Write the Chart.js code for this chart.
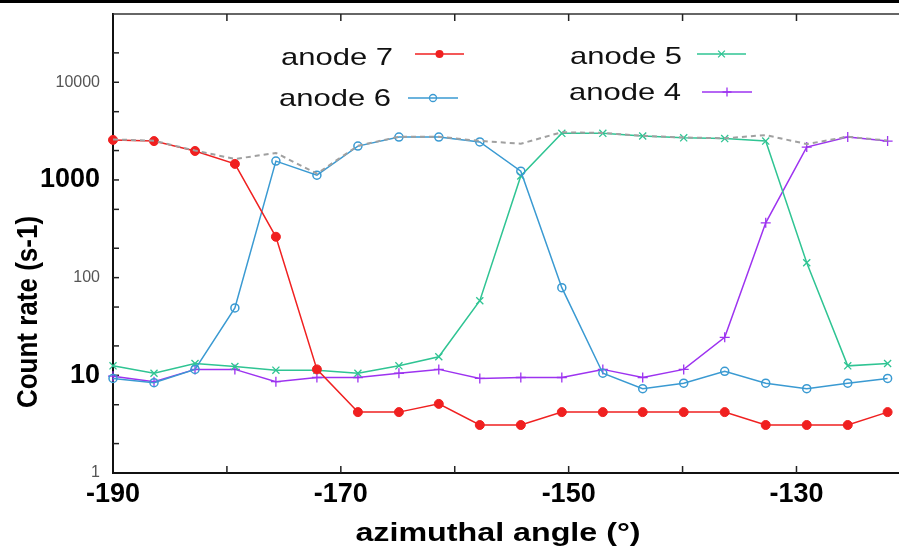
<!DOCTYPE html>
<html><head><meta charset="utf-8">
<script src="https://cdn.jsdelivr.net/npm/chart.js@4.4.0/dist/chart.umd.min.js"></script>
<style>html,body{margin:0;padding:0;background:#fff;overflow:hidden}#wrap{width:899px;height:547px;position:relative}</style>
</head><body><div id="wrap"><canvas id="c" width="899" height="547"></canvas></div>
<script>
// ---- data ----
const angles = [-190, -186.4, -182.8, -179.3, -175.7, -172.1, -168.5, -164.9, -161.4, -157.8, -154.2, -150.6, -147.0, -143.5, -139.9, -136.3, -132.7, -129.1, -125.5, -122.0];
const anode7 = [2570, 2500, 1980, 1460, 262, 11.5, 4.2, 4.2, 5.1, 3.1, 3.1, 4.2, 4.2, 4.2, 4.2, 4.2, 3.1, 3.1, 3.1, 4.2];
const anode6 = [9.3, 8.4, 11.5, 49, 1560, 1120, 2220, 2750, 2750, 2450, 1230, 79, 10.5, 7.3, 8.3, 11, 8.3, 7.3, 8.3, 9.3];
const anode5 = [12.5, 10.5, 13.2, 12.3, 11.3, 11.3, 10.5, 12.5, 15.5, 58, 1100, 3000, 3000, 2820, 2700, 2650, 2500, 142, 12.5, 13.2];
const anode4 = [9.8, 8.6, 11.5, 11.5, 8.6, 9.5, 9.5, 10.5, 11.5, 9.3, 9.5, 9.5, 11.5, 9.5, 11.5, 24.5, 364, 2170, 2750, 2500];
const total  = [2600, 2520, 2000, 1640, 1890, 1160, 2240, 2770, 2770, 2510, 2350, 3080, 3030, 2830, 2720, 2670, 2880, 2330, 2770, 2530];
const seriesNames = ['anode 7', 'anode 6', 'anode 5', 'anode 4'];
const xTickValues = [-190, -180, -170, -160, -150, -140, -130];
const xTickLabels = [-190, -170, -150, -130];
const yTickValues = [1, 2, 5, 10, 20, 50, 100, 200, 500, 1000, 2000, 5000, 10000, 20000];
const yTickLabelsBig = [10, 1000];
const yTickLabelsSmall = [1, 100, 10000];
const xTitle = 'azimuthal angle (°)';
const yTitle = 'Count rate (s-1)';

const pts = arr => angles.map((a, i) => ({x: a, y: arr[i]}));
const FONT = '"Liberation Sans", Arial, sans-serif';

const colors = {a7: '#f02020', a6: '#3a9ad2', a5: '#2fc493', a4: '#9d33f0', tot: '#a0a0a0'};

const datasets = [
  {label: 'total', data: pts(total), borderColor: colors.tot, borderWidth: 2, borderDash: [5, 4], pointRadius: 0, clip: false},
  {label: seriesNames[0], data: pts(anode7), borderColor: colors.a7, backgroundColor: colors.a7, borderWidth: 1.5,
   pointStyle: 'circle', pointRadius: 4.5, pointBackgroundColor: colors.a7, pointBorderColor: colors.a7, pointBorderWidth: 1, clip: false},
  {label: seriesNames[1], data: pts(anode6), borderColor: colors.a6, backgroundColor: colors.a6, borderWidth: 1.5,
   pointStyle: 'circle', pointRadius: 4, pointBackgroundColor: 'rgba(255,255,255,0)', pointBorderColor: colors.a6, pointBorderWidth: 1.5, clip: false},
  {label: seriesNames[2], data: pts(anode5), borderColor: colors.a5, backgroundColor: colors.a5, borderWidth: 1.5,
   pointStyle: 'crossRot', pointRadius: 5, pointBorderColor: colors.a5, pointBorderWidth: 1.3, clip: false},
  {label: seriesNames[3], data: pts(anode4), borderColor: colors.a4, backgroundColor: colors.a4, borderWidth: 1.5,
   pointStyle: 'cross', pointRadius: 5, pointBorderColor: colors.a4, pointBorderWidth: 1.3, clip: false}
];

function marker(ctx, style, x, y, r, color, lw) {
  ctx.save();
  ctx.strokeStyle = color; ctx.fillStyle = color; ctx.lineWidth = lw;
  ctx.beginPath();
  if (style === 'dot') { ctx.arc(x, y, r, 0, Math.PI * 2); ctx.fill(); }
  else if (style === 'ring') { ctx.arc(x, y, r, 0, Math.PI * 2); ctx.stroke(); }
  else if (style === 'crossRot') { const d = r * 0.75; ctx.moveTo(x - d, y - d); ctx.lineTo(x + d, y + d); ctx.moveTo(x - d, y + d); ctx.lineTo(x + d, y - d); ctx.stroke(); }
  else { ctx.moveTo(x - r, y); ctx.lineTo(x + r, y); ctx.moveTo(x, y - r); ctx.lineTo(x, y + r); ctx.stroke(); }
  ctx.restore();
}

const framePlugin = {
  id: 'frame',
  beforeDatasetsDraw(chart) {
    const {ctx, chartArea: a, scales: {x, y}} = chart;
    ctx.save();
    ctx.fillStyle = '#000'; ctx.fillRect(0, 0, chart.width, 3);
    ctx.strokeStyle = '#333'; ctx.lineWidth = 1.5;
    ctx.beginPath(); ctx.moveTo(a.left, a.top); ctx.lineTo(chart.width, a.top); ctx.stroke();
    ctx.strokeStyle = '#222'; ctx.lineWidth = 1.5;
    x.ticks.forEach(t => {
      const px = x.getPixelForValue(t.value);
      if (px <= a.left + 2) return;
      ctx.beginPath();
      ctx.moveTo(px, a.bottom); ctx.lineTo(px, a.bottom - 7);
      ctx.moveTo(px, a.top); ctx.lineTo(px, a.top + 7);
      ctx.stroke();
    });
    y.ticks.forEach(t => {
      const py = y.getPixelForValue(t.value);
      if (py >= a.bottom - 1) return;
      ctx.beginPath(); ctx.moveTo(a.left, py); ctx.lineTo(a.left + 6, py); ctx.stroke();
    });
    ctx.restore();
  },
  afterDraw(chart) {
    const {ctx} = chart;
    ctx.save();
    ctx.fillStyle = '#000';
    ctx.font = 'bold 26px ' + FONT;
    ctx.textAlign = 'center'; ctx.textBaseline = 'alphabetic';
    ctx.save(); ctx.translate(498, 541); ctx.scale(1.24, 1); ctx.fillText(xTitle, 0, 0); ctx.restore();
    ctx.save(); ctx.translate(37, 312); ctx.rotate(-Math.PI / 2); ctx.scale(1, 1.15); ctx.fillText(yTitle, 0, 0); ctx.restore();
    const items = [
      {ds: 1, tx: 281, ty: 65, x1: 415, x2: 464, my: 54, m: 'dot', r: 4},
      {ds: 3, tx: 570, ty: 64, x1: 697, x2: 746, my: 54, m: 'crossRot', r: 4.5},
      {ds: 2, tx: 279, ty: 106, x1: 408, x2: 458, my: 98, m: 'ring', r: 3.5},
      {ds: 4, tx: 569, ty: 100, x1: 702, x2: 752, my: 92, m: 'cross', r: 4.5}
    ];
    ctx.font = '24px ' + FONT; ctx.textAlign = 'left'; ctx.textBaseline = 'alphabetic';
    items.forEach(it => {
      const d = chart.data.datasets[it.ds];
      const w = ctx.measureText(d.label).width;
      ctx.save(); ctx.translate(it.tx, it.ty); ctx.scale(112 / w, 1); ctx.fillStyle = '#111'; ctx.fillText(d.label, 0, 0); ctx.restore();
      ctx.save(); ctx.strokeStyle = d.borderColor; ctx.lineWidth = 1.5;
      ctx.beginPath(); ctx.moveTo(it.x1, it.my); ctx.lineTo(it.x2, it.my); ctx.stroke(); ctx.restore();
      marker(ctx, it.m, (it.x1 + it.x2) / 2, it.my, it.r, d.borderColor, 1.3);
    });
    ctx.restore();
  }
};

new Chart(document.getElementById('c'), {
  type: 'line',
  data: {datasets},
  options: {
    responsive: false, animation: false, devicePixelRatio: 1,
    layout: {autoPadding: false, padding: {top: 14, left: 0, right: 0, bottom: 0}},
    elements: {line: {tension: 0}},
    plugins: {legend: {display: false}, tooltip: {enabled: false}, title: {display: false}},
    scales: {
      x: {
        type: 'linear', min: -190, max: -121,
        afterBuildTicks: s => { s.ticks = xTickValues.map(v => ({value: v})); },
        afterFit: s => { s.height = 74; s.paddingLeft = 0; s.paddingRight = 0; },
        grid: {display: false, drawTicks: false},
        border: {display: true, color: '#111', width: 2},
        ticks: {
          autoSkip: false, maxRotation: 0, padding: 5, color: '#000',
          font: {family: FONT, size: 27, weight: 'bold'},
          callback: v => xTickLabels.includes(v) ? String(v) : ''
        }
      },
      y: {
        type: 'logarithmic', min: 1, max: 50000,
        afterBuildTicks: s => { s.ticks = yTickValues.map(v => ({value: v})); },
        afterFit: s => { s.width = 113; s.paddingTop = 0; s.paddingBottom = 0; },
        grid: {display: false, drawTicks: false},
        border: {display: true, color: '#111', width: 2},
        ticks: {
          autoSkip: false, padding: 13,
          color: c => yTickLabelsBig.includes(c.tick && c.tick.value) ? '#000' : '#555',
          font: c => yTickLabelsBig.includes(c.tick && c.tick.value)
            ? {family: FONT, size: 27, weight: 'bold'}
            : {family: FONT, size: 16, weight: 'normal'},
          callback: v => (yTickLabelsBig.includes(v) || yTickLabelsSmall.includes(v)) ? String(v) : ''
        }
      }
    }
  },
  plugins: [framePlugin]
});
</script></body></html>
